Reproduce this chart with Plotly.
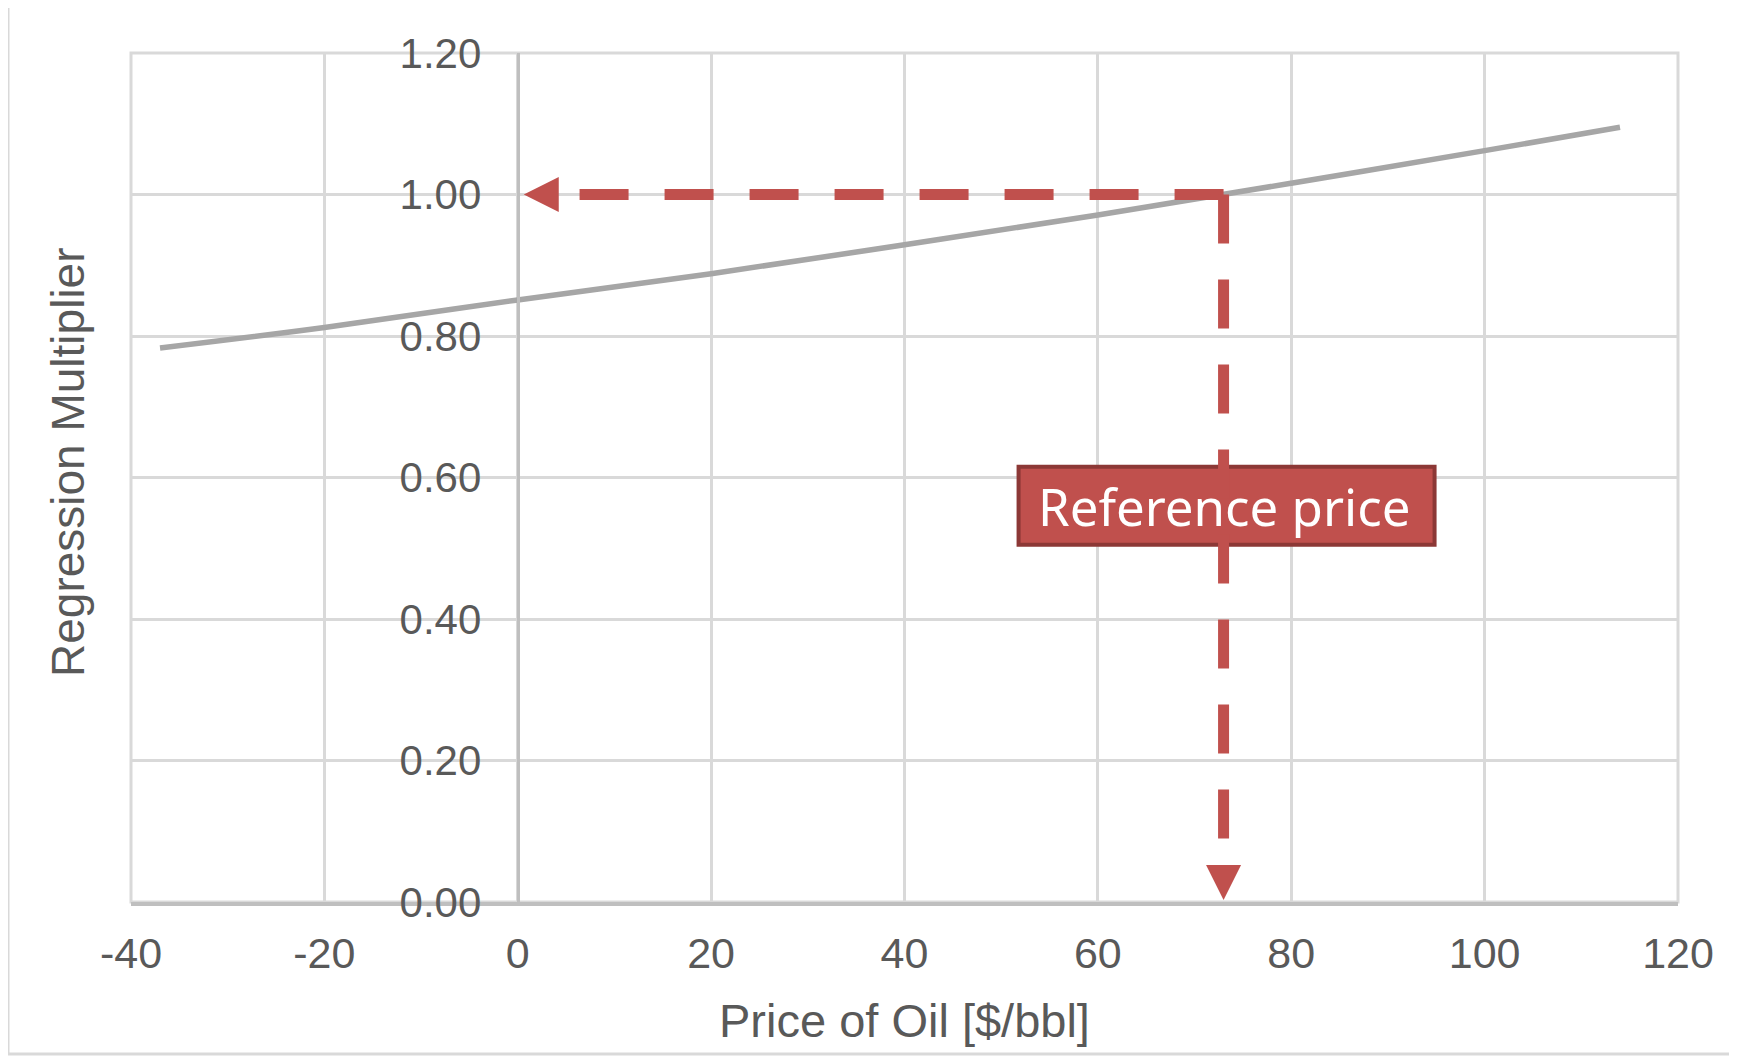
import plotly.graph_objects as go

# ---- data ----
oil_price = [-37, -20, 0, 20, 40, 60, 80, 100, 114]
multiplier = [0.783, 0.812, 0.851, 0.888, 0.929, 0.971, 1.016, 1.062, 1.095]
ref_price = 73
ref_multiplier = 1.0
x_ticks = [-40, -20, 0, 20, 40, 60, 80, 100, 120]
y_ticks = [0.0, 0.2, 0.4, 0.6, 0.8, 1.0, 1.2]
label_text = "Reference price"

# ---- styles ----
OFF = 8                       # page body margin
W, H = 1737 - OFF, 1056 - OFF
# plot area in screen pixels: left 131, right 1678, top 53, bottom 902
ML, MT = 131 - OFF, 53 - OFF
MR = W - (1678 - OFF)
MB = H - (902 - OFF)
RED = "#C0504D"
RED_DARK = "#8C3836"
GRID = "#d9d9d9"
AXIS = "#bfbfbf"
TXT = "#595959"
FONT = "Liberation Sans, Arial, sans-serif"
label_y = 0.56          # vertical placement of the label box (data units)
h_end_x = 4             # where the horizontal dashes stop (under arrow head)
v_end_y = 0.06          # where the vertical dashes stop (under arrow head)
DASH = "49px,36px"

pw = W - ML - MR
ph = H - MT - MB


def px_x(sx):
    return (sx - OFF - ML) / pw


def px_y(sy):
    return (H - MB - (sy - OFF)) / ph


fig = go.Figure()
fig.add_trace(go.Scatter(
    x=oil_price, y=multiplier, mode="lines",
    line=dict(color="#a6a6a6", width=5.5, shape="spline"),
    hoverinfo="skip", showlegend=False,
))

shapes = []
# outer chart frame
shapes.append(dict(type="rect", xref="paper", yref="paper",
                   x0=px_x(8), x1=px_x(1760),
                   y0=px_y(1054), y1=px_y(5),
                   line=dict(color=GRID, width=3), fillcolor="rgba(0,0,0,0)", layer="below"))
# plot area border
shapes.append(dict(type="rect", xref="paper", yref="paper",
                   x0=0, x1=1, y0=0, y1=1,
                   line=dict(color=GRID, width=3), fillcolor="rgba(0,0,0,0)", layer="below"))
# label box
shapes.append(dict(type="rect", xref="x", yref="y",
                   xsizemode="pixel", ysizemode="pixel",
                   xanchor=ref_price, yanchor=label_y,
                   x0=-205, x1=211, y0=-39, y1=39,
                   fillcolor=RED, line=dict(color=RED_DARK, width=4), layer="above"))
# dashed connectors
shapes.append(dict(type="line", xref="x", yref="y",
                   x0=ref_price, y0=ref_multiplier, x1=h_end_x, y1=ref_multiplier,
                   line=dict(color=RED, width=11, dash=DASH), layer="above"))
shapes.append(dict(type="line", xref="x", yref="y",
                   x0=ref_price, y0=ref_multiplier, x1=ref_price, y1=v_end_y,
                   line=dict(color=RED, width=11, dash=DASH), layer="above"))

annotations = [
    # arrow heads
    dict(x=0, y=ref_multiplier, xref="x", yref="y", text="", showarrow=True,
         ax=38, ay=0, arrowhead=2, arrowsize=1, arrowwidth=7, arrowcolor=RED, standoff=6),
    dict(x=ref_price, y=0, xref="x", yref="y", text="", showarrow=True,
         ax=0, ay=-34, arrowhead=2, arrowsize=1, arrowwidth=7, arrowcolor=RED, standoff=2),
    # label text
    dict(x=ref_price, y=label_y, xref="x", yref="y", text=label_text, showarrow=False,
         xshift=0, font=dict(family="Noto Sans", size=51, color="white")),
    # axis titles
    dict(x=px_x(68), y=px_y(462), xref="paper", yref="paper",
         text="Regression Multiplier", textangle=-90, showarrow=False,
         xanchor="center", yanchor="middle", font=dict(family=FONT, size=46, color=TXT)),
    dict(x=0.5, y=px_y(1020), xref="paper", yref="paper",
         text="Price of Oil [$/bbl]", showarrow=False,
         xanchor="center", yanchor="middle", font=dict(family=FONT, size=47, color=TXT)),
]

fig.update_layout(
    width=W, height=H,
    margin=dict(l=ML, r=MR, t=MT, b=MB),
    paper_bgcolor="white", plot_bgcolor="white",
    showlegend=False,
    shapes=shapes, annotations=annotations,
    xaxis=dict(range=[-40, 120], tickvals=x_ticks, ticktext=[str(v) for v in x_ticks],
               showgrid=True, gridcolor=GRID, gridwidth=3, zeroline=False,
               showline=True, linecolor=AXIS, linewidth=4,
               ticks="", ticklabelstandoff=10,
               tickfont=dict(family=FONT, size=43, color=TXT)),
    yaxis=dict(range=[0, 1.2], tickvals=y_ticks, ticktext=[f"{v:.2f}" for v in y_ticks],
               anchor="free", position=0.25,
               showgrid=True, gridcolor=GRID, gridwidth=3, zeroline=False,
               showline=True, linecolor=AXIS, linewidth=3,
               ticks="", ticklabelstandoff=27,
               tickfont=dict(family=FONT, size=42, color=TXT)),
)

fig.write_html("out.html")
